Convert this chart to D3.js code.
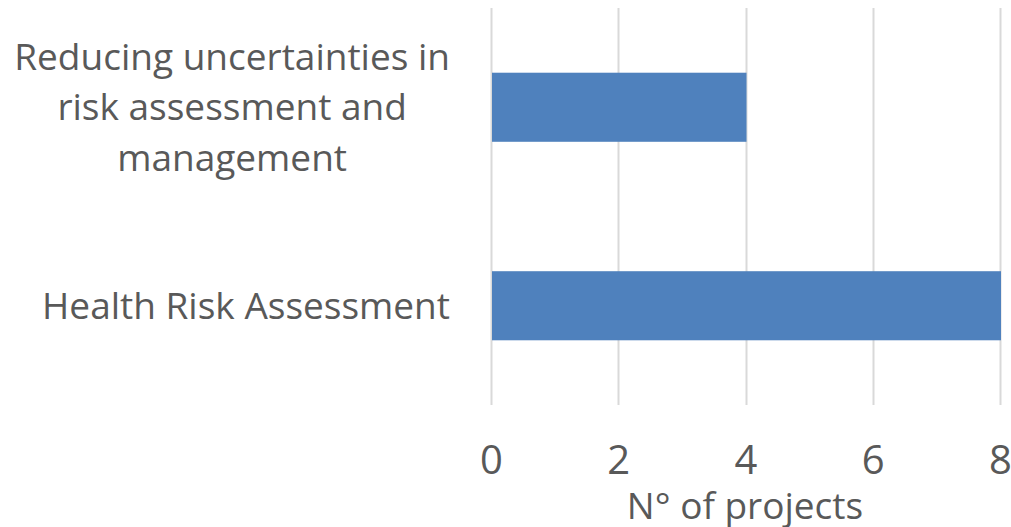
<!DOCTYPE html>
<html>
<head>
<meta charset="utf-8">
<script src="https://cdn.jsdelivr.net/npm/d3@7"></script>
<style>
  body { margin: 0; background: #fff; }
  svg text { font-family: "Open Sans", "DejaVu Sans", sans-serif; fill: #595959; }
</style>
</head>
<body>
<svg id="chart" width="1011" height="527"></svg>
<script>
  // data
  var categories = [ "Reducing uncertainties in risk assessment and management" , "Health Risk Assessment" ];
  var labelLines = [ [ "Reducing uncertainties in" , "risk assessment and" , "management" ] , [ "Health Risk Assessment" ] ];
  var values = [ 4 , 8 ];
  var tickValues = [ 0 , 2 , 4 , 6 , 8 ];
  var axisTitle = "N° of projects";

  var svg = d3.select( "#chart" );
  var m = { left : 491 , right : 1000 , top : 8 , bottom : 405 };

  var x = d3.scaleLinear().domain( [ 0 , 8 ] ).range( [ m.left , m.right ] );
  var y = d3.scaleBand().domain( categories ).range( [ m.top , m.bottom ] )
            .paddingInner( 0.652 ).paddingOuter( 0.326 );

  // gridlines
  svg.append( "g" ).selectAll( "line" ).data( tickValues ).enter().append( "line" )
     .attr( "x1" , function( d ) { return Math.round( x( d ) ) + 0.5; } )
     .attr( "x2" , function( d ) { return Math.round( x( d ) ) + 0.5; } )
     .attr( "y1" , m.top ).attr( "y2" , m.bottom )
     .attr( "stroke" , "#d9d9d9" ).attr( "stroke-width" , 2 );

  // bars
  svg.append( "g" ).selectAll( "rect" ).data( values ).enter().append( "rect" )
     .attr( "x" , x( 0 ) + 1 )
     .attr( "y" , function( d , i ) { return y( categories[ i ] ); } )
     .attr( "width" , function( d ) { return x( d ) - x( 0 ); } )
     .attr( "height" , y.bandwidth() )
     .attr( "fill" , "#4f81bd" );

  // x axis tick labels
  var xAxis = d3.axisBottom( x ).tickValues( tickValues ).tickSize( 0 ).tickPadding( 0 );
  var ax = svg.append( "g" ).attr( "transform" , "translate(0,474)" ).call( xAxis );
  ax.select( ".domain" ).remove();
  ax.selectAll( "text" ).attr( "dy" , 0 ).attr( "fill" , "#595959" )
    .style( "font-size" , "40px" ).style( "font-family" , "\"Open Sans\", sans-serif" );

  svg.append( "text" ).attr( "x" , 745 ).attr( "y" , 519 )
     .attr( "text-anchor" , "middle" ).style( "font-size" , "37px" ).text( axisTitle );

  // category labels (multi-line, centred in their block, block right-aligned)
  var lineH = 50.5;
  labelLines.forEach( function( lines , i ) {
    var cy = y( categories[ i ] ) + y.bandwidth() / 2;
    var g = svg.append( "g" );
    var texts = lines.map( function( l , j ) {
      return g.append( "text" ).attr( "text-anchor" , "middle" ).style( "font-size" , "37px" )
              .attr( "y" , cy + ( j - ( lines.length - 1 ) / 2 ) * lineH + 13 ).text( l );
    } );
    var w = d3.max( texts , function( t ) { return t.node().getComputedTextLength(); } );
    texts.forEach( function( t ) { t.attr( "x" , 450 - w / 2 ); } );
  } );
</script>
</body>
</html>
